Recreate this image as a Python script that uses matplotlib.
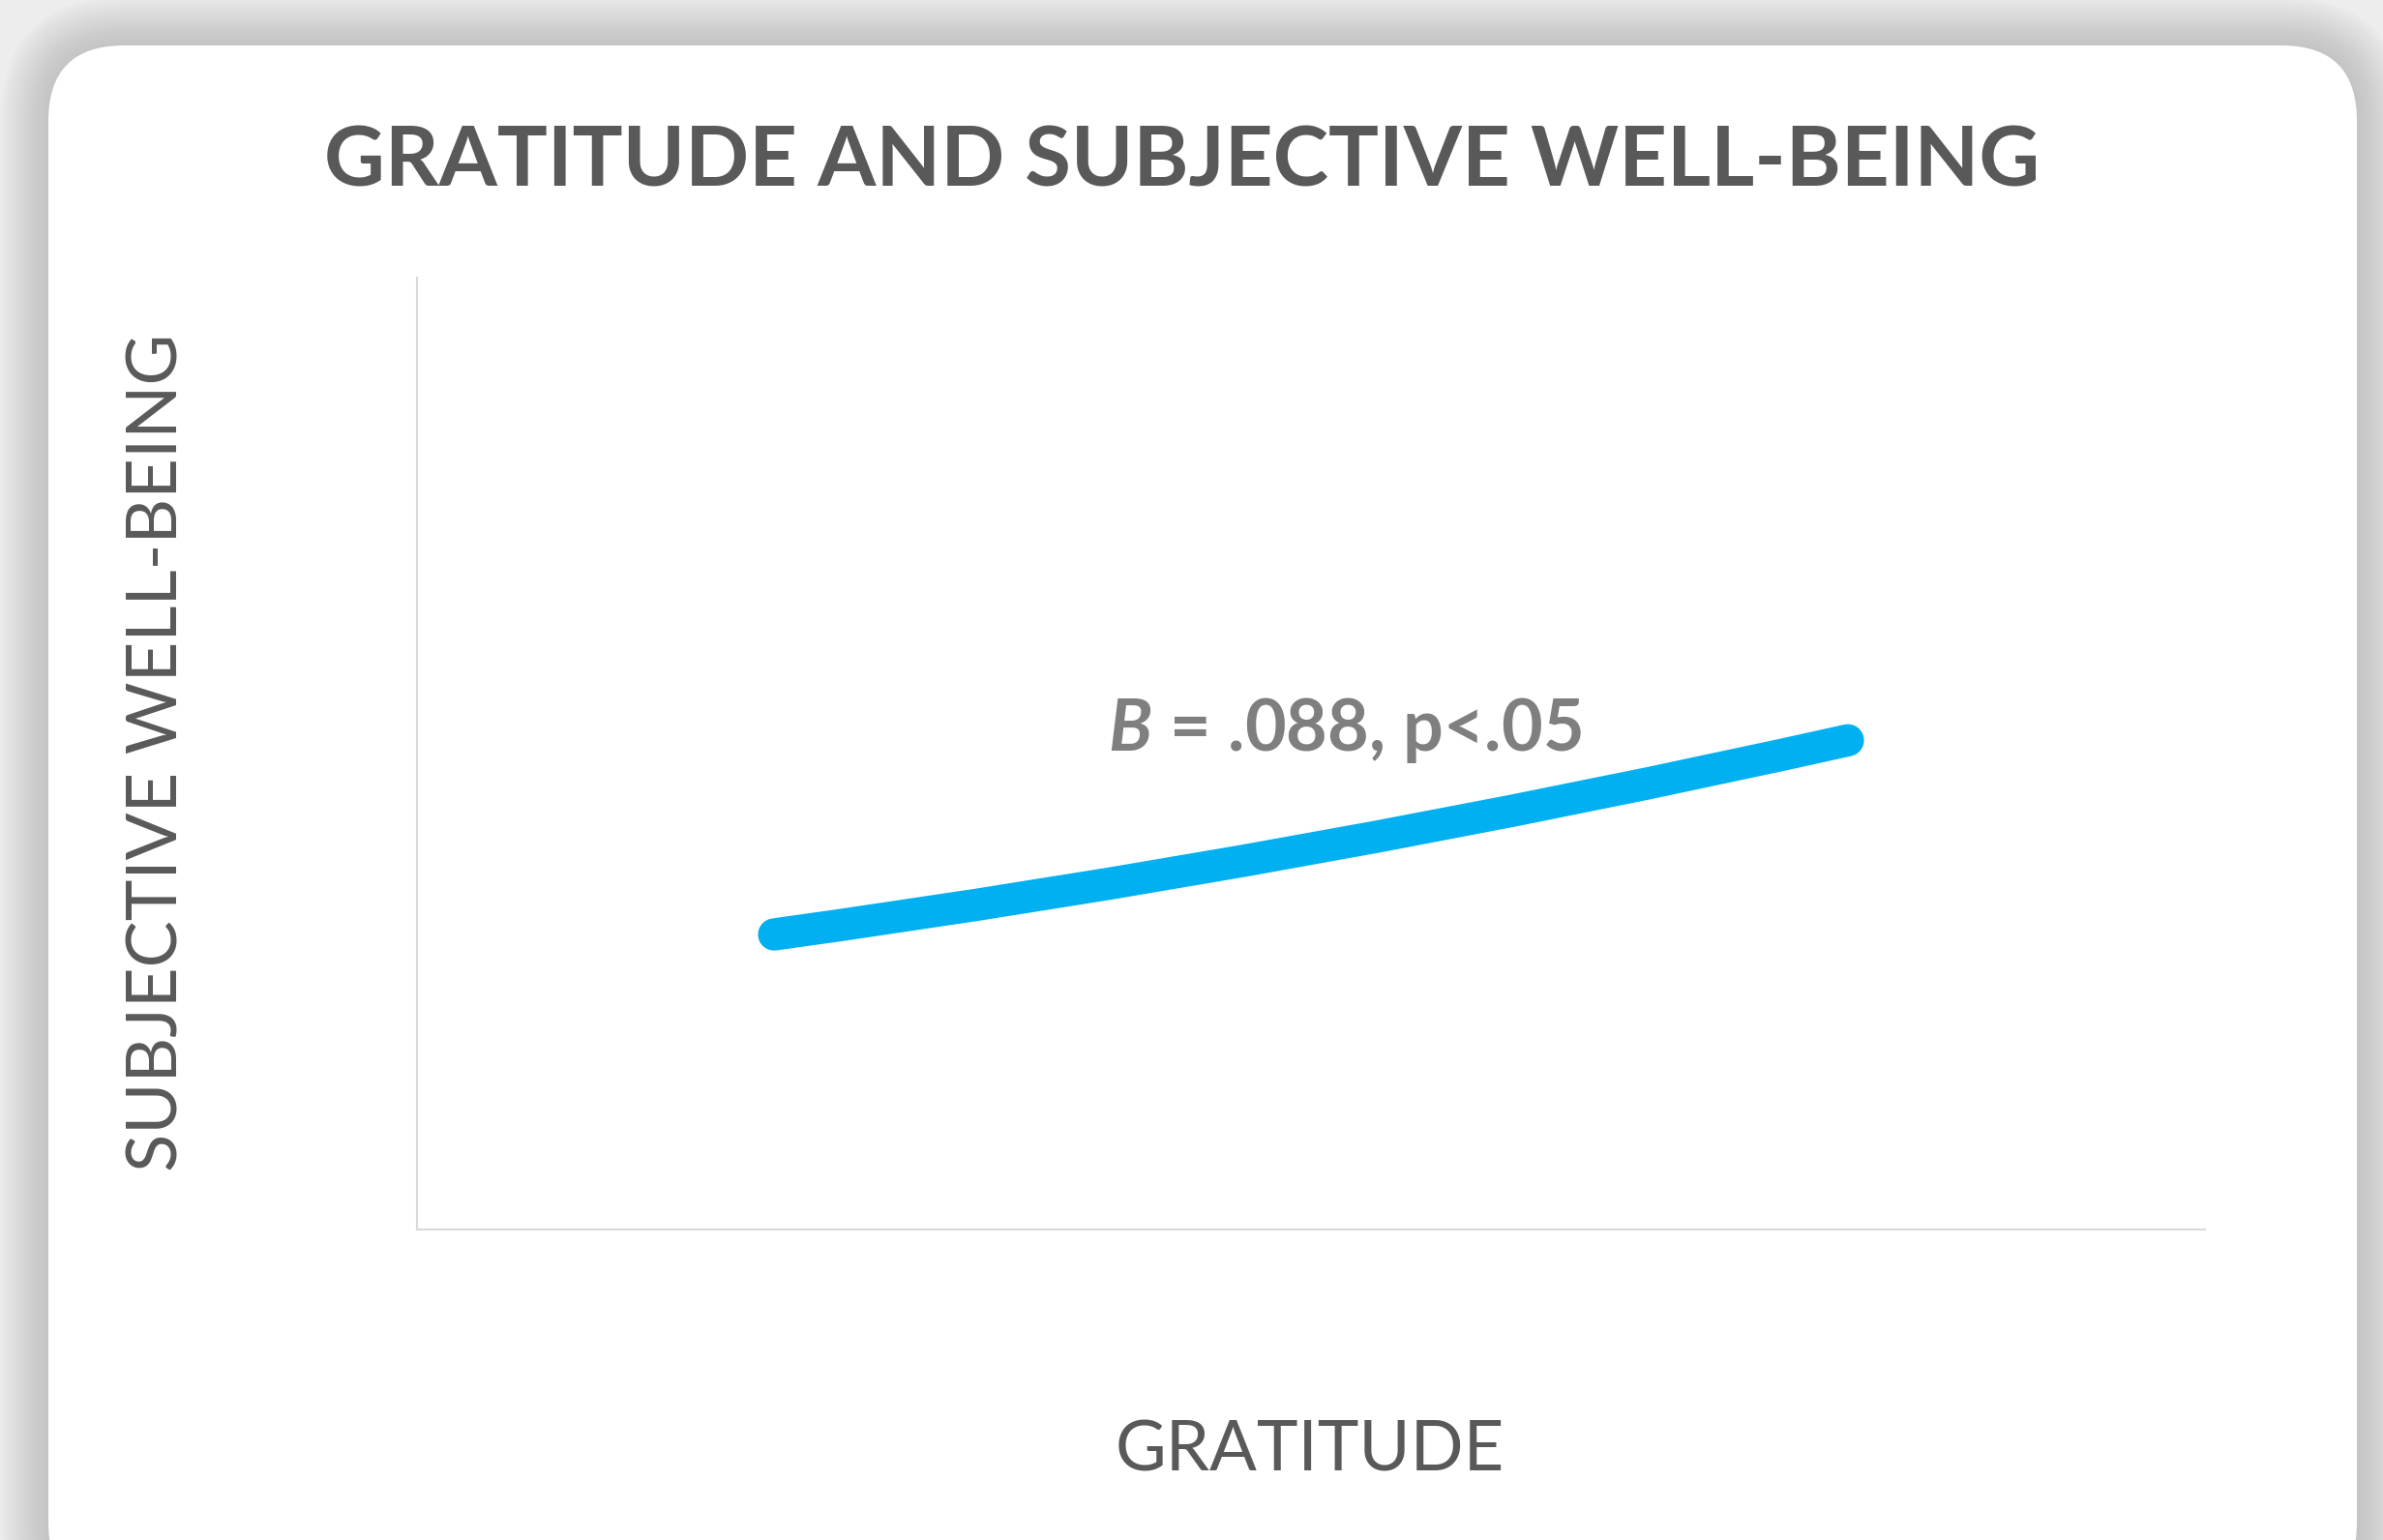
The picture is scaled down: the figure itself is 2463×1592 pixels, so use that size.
import matplotlib
matplotlib.use("Agg")
import matplotlib.pyplot as plt
from matplotlib.patches import FancyBboxPatch, PathPatch
from matplotlib.path import Path
from matplotlib.transforms import IdentityTransform

plt.rcParams["font.family"] = ["Lato", "DejaVu Sans"]
plt.rcParams["mathtext.fontset"] = "custom"
plt.rcParams["mathtext.bfit"] = "Lato:italic:bold"
plt.rcParams["mathtext.rm"] = "Lato"

# simple-slope values (low / mean / high gratitude)
gratitude = [-1.0, 0.0, 1.0]
well_being = [1.55, 2.00, 2.57]

TITLE = "GRATITUDE AND SUBJECTIVE WELL-BEING"
XLABEL = "GRATITUDE"
YLABEL = "SUBJECTIVE WELL-BEING"
NOTE = r"$\mathbfit{B}$ = .088, p<.05"

W, H = 2463, 1592
fig = plt.figure(figsize=(W / 100, H / 100), dpi=100)
fig.patch.set_facecolor("#ededed")

# card with soft shadow (pixel coordinates)
cx0, cy0, cx1, cy1 = 50, -60, 2436, 1545
for i in range(14, 0, -1):
    pad = i * 3.5
    sh = FancyBboxPatch((cx0 - pad, cy0 - pad), cx1 - cx0 + 2 * pad, cy1 - cy0 + 2 * pad,
                        boxstyle=f"round,pad=0,rounding_size={78 + pad}",
                        transform=IdentityTransform(), facecolor="#a0a0a0",
                        edgecolor="none", alpha=0.045, zorder=-20)
    fig.add_artist(sh)
card = FancyBboxPatch((cx0, cy0), cx1 - cx0, cy1 - cy0,
                      boxstyle="round,pad=0,rounding_size=78",
                      transform=IdentityTransform(), facecolor="white",
                      edgecolor="none", zorder=-10)
fig.add_artist(card)

ax = fig.add_axes([0.175, 0.2016, 0.7503, 0.6181])
ax.set_facecolor("none")
ax.set_xlim(-1.665, 1.665)
ax.set_ylim(0, 5)

# smoothed line through the three points (quadratic bezier, like excel smoothing)
p0 = (gratitude[0], well_being[0])
pm = (gratitude[1], well_being[1])
p2 = (gratitude[2], well_being[2])
ctrl = (2 * pm[0] - 0.5 * (p0[0] + p2[0]), 2 * pm[1] - 0.5 * (p0[1] + p2[1]))
curve = Path([p0, ctrl, p2], [Path.MOVETO, Path.CURVE3, Path.CURVE3])
ax.add_patch(PathPatch(curve, facecolor="none", edgecolor="#00B0F0",
                       linewidth=24, capstyle="round", zorder=3))

for side in ["top", "right"]:
    ax.spines[side].set_visible(False)
for side in ["left", "bottom"]:
    ax.spines[side].set_color("#d9d9d9")
    ax.spines[side].set_linewidth(1.5)
ax.set_xticks([])
ax.set_yticks([])

ax.text(0.519, 0.524, NOTE, transform=ax.transAxes, ha="center", va="center",
        fontsize=53, fontweight="bold", color="#7f7f7f")

fig.text(0.496, 0.8945, TITLE, ha="center", va="center", fontsize=62.5,
         fontweight="bold", color="#595959")
fig.text(0.5497, 0.0578, XLABEL, ha="center", va="center", fontsize=52,
         color="#595959")
fig.text(0.0662, 0.5113, YLABEL, ha="center", va="center", fontsize=52,
         color="#595959", rotation=90)

fig.savefig("out.png", dpi=100, facecolor=fig.get_facecolor())
